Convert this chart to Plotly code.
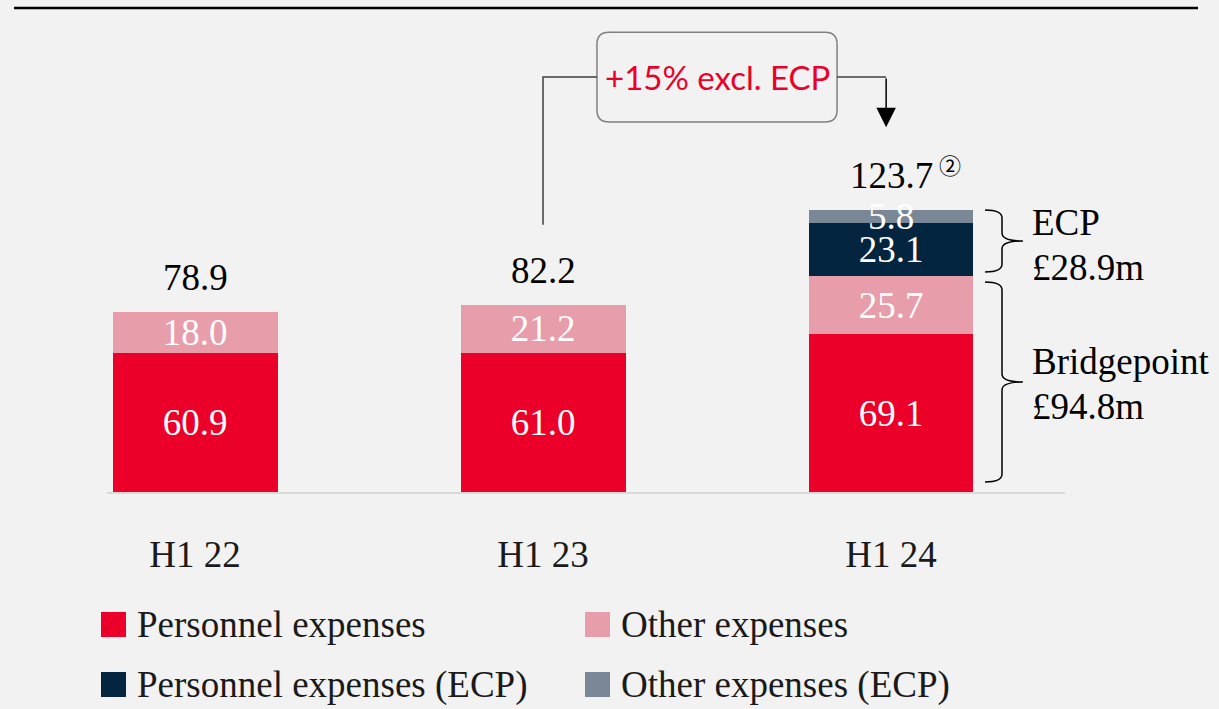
import plotly.graph_objects as go

# 数据
categories = ["H1 22", "H1 23", "H1 24"]
personnel = [60.9, 61.0, 69.1]
other = [18.0, 21.2, 25.7]
personnel_ecp = [None, None, 23.1]
other_ecp = [None, None, 5.8]
totals = [78.9, 82.2, 123.7]
ecp_total = 28.9
bridgepoint_total = 94.8
growth_label = "+15% excl. ECP"

# 颜色
RED = "#EA0029"
PINK = "#E79DAA"
NAVY = "#03253F"
SLATE = "#798797"
BG = "#F2F2F2"
SERIF = "Liberation Serif"
FS = 37

# 绘图区像素 -> paper 坐标
L, T, W, H = 107, 8, 958, 484
def paper_x(px):
    return (px - L) / W
def paper_y(py):
    return (T + H - py) / H

xs = list(range(len(categories)))
bar_w = 0.474

fig = go.Figure()

series = [
    ("Personnel expenses", personnel, RED),
    ("Other expenses", other, PINK),
    ("Personnel expenses (ECP)", personnel_ecp, NAVY),
    ("Other expenses (ECP)", other_ecp, SLATE),
]
for name, vals, color in series:
    fig.add_trace(go.Bar(
        x=xs, y=vals, width=bar_w, name=name,
        marker=dict(color=color, line_width=0),
        text=[f"{v:.1f}" if v is not None else "" for v in vals],
        textposition="inside", insidetextanchor="middle", constraintext="none",
        textfont=dict(family=SERIF, size=FS, color="white"),
        showlegend=False, hoverinfo="skip",
    ))

# 图例（手工绘制 2x2）
col_px = [101, 585]
row_px = [624.5, 684.5]
sw = 25
for i, (name, vals, color) in enumerate(series):
    cx, cy = col_px[i % 2], row_px[i // 2]
    fig.add_shape(type="rect", xref="paper", yref="paper",
                  x0=paper_x(cx), x1=paper_x(cx + sw),
                  y0=paper_y(cy - sw / 2), y1=paper_y(cy + sw / 2),
                  fillcolor=color, line_width=0)
    fig.add_annotation(xref="paper", yref="paper", x=paper_x(cx + 34), y=paper_y(cy),
                       text=name, showarrow=False, xanchor="left", yanchor="middle",
                       font=dict(family=SERIF, size=FS, color="#1a1a1a"))

# 合计标签
for x, t in zip(xs, totals):
    fig.add_annotation(x=x, y=t, text=f"{t:.1f}", showarrow=False,
                       yanchor="bottom", yshift=12,
                       font=dict(family=SERIF, size=FS, color="black"))
fig.add_annotation(x=xs[2], y=totals[2], text="②", showarrow=False,
                   xanchor="left", yanchor="middle", xshift=46, yshift=46,
                   font=dict(family="Noto Sans CJK JP", size=22, color="black"))

# 花括号
def brace(x0, xm, xt, y_top, y_bot, ry=3.5):
    ym = (y_top + y_bot) / 2
    return (f"M {x0},{y_top} Q {xm},{y_top} {xm},{y_top - ry} "
            f"L {xm},{ym + ry} Q {xm},{ym} {xt},{ym} "
            f"Q {xm},{ym} {xm},{ym - ry} "
            f"L {xm},{y_bot + ry} Q {xm},{y_bot} {x0},{y_bot}")

bx0, bxm, bxt = xs[2] + 0.27, xs[2] + 0.319, xs[2] + 0.379
ecp_top, ecp_bot = totals[2], bridgepoint_total + 1.7
bp_top, bp_bot = bridgepoint_total - 2.7, 4.4
for yt, yb in [(ecp_top, ecp_bot), (bp_top, bp_bot)]:
    fig.add_shape(type="path", path=brace(bx0, bxm, bxt, yt, yb),
                  line=dict(color="black", width=1.5))

brace_labels = [
    ((ecp_top + ecp_bot) / 2, ["ECP", f"£{ecp_total}m"], -4),
    ((bp_top + bp_bot) / 2, ["Bridgepoint", f"£{bridgepoint_total}m"], -1.5),
]
for ym, lines, off in brace_labels:
    for k, line in enumerate(lines):
        fig.add_annotation(x=xs[2] + 0.399, y=ym, text=line, showarrow=False,
                           xanchor="left", yanchor="middle",
                           yshift=(22.5 if k == 0 else -22.5) + off,
                           font=dict(family=SERIF, size=FS, color="black"))

# 增长标注框与连接线
bcx, bcy, bhw, bhh = 1.5, 182, 0.345, 19.7
r_x, r_y = 0.0345, 5.26
x0b, x1b, y0b, y1b = bcx - bhw, bcx + bhw, bcy - bhh, bcy + bhh
box_path = (f"M {x0b + r_x},{y1b} L {x1b - r_x},{y1b} Q {x1b},{y1b} {x1b},{y1b - r_y} "
            f"L {x1b},{y0b + r_y} Q {x1b},{y0b} {x1b - r_x},{y0b} "
            f"L {x0b + r_x},{y0b} Q {x0b},{y0b} {x0b},{y0b + r_y} "
            f"L {x0b},{y1b - r_y} Q {x0b},{y1b} {x0b + r_x},{y1b} Z")
fig.add_shape(type="path", path=box_path, line=dict(color="#808080", width=1.5))
fig.add_shape(type="path",
              path=f"M {xs[1]},{totals[1] + 35} L {xs[1]},{bcy} L {x0b},{bcy}",
              line=dict(color="#404040", width=1.5))
fig.add_shape(type="path",
              path=f"M {x1b},{bcy} L {xs[2] - 0.014},{bcy}",
              line=dict(color="#404040", width=1.5))
fig.add_annotation(x=xs[2] - 0.014, y=160, ax=xs[2] - 0.014, ay=bcy,
                   axref="x", ayref="y", showarrow=True, text="",
                   arrowhead=2, arrowsize=2.6, arrowwidth=1.5, arrowcolor="black")
fig.add_annotation(x=bcx, y=bcy, text=growth_label, showarrow=False,
                   font=dict(family="Lato", size=33, color=RED))

# 顶部黑线
fig.add_shape(type="line", xref="paper", yref="paper",
              x0=paper_x(14), x1=paper_x(1198), y0=paper_y(8), y1=paper_y(8),
              line=dict(color="black", width=2.5))

fig.update_layout(
    width=1219, height=709,
    margin=dict(l=L, r=1219 - L - W, t=T, b=709 - T - H),
    paper_bgcolor=BG, plot_bgcolor=BG,
    barmode="stack", showlegend=False,
    xaxis=dict(range=[-0.253, 2.5], tickvals=xs, ticktext=categories,
               showgrid=False, zeroline=False, showline=True,
               linecolor="#D9D9D9", linewidth=2, ticks="",
               ticklabelstandoff=29,
               tickfont=dict(family=SERIF, size=FS, color="#1a1a1a")),
    yaxis=dict(range=[0, 212.3], visible=False),
)

fig.write_html("out.html", config={"displayModeBar": False},
               post_script="document.body.style.margin='0';")
